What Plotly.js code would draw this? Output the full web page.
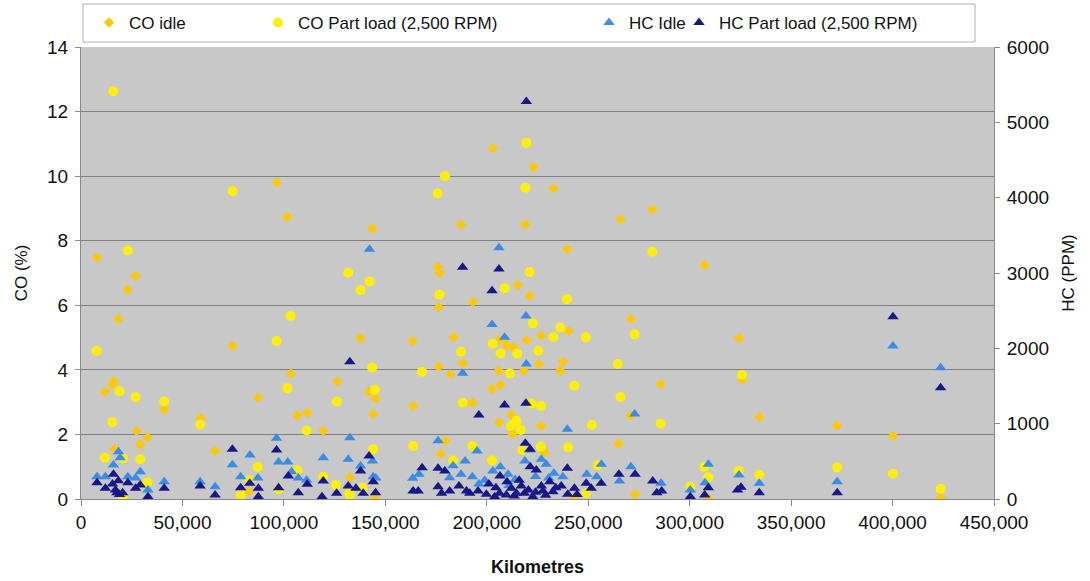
<!DOCTYPE html>
<html>
<head>
<meta charset="utf-8">
<script src="https://cdn.plot.ly/plotly-3.0.1.min.js"></script>
<style>
  html, body { margin: 0; padding: 0; background: #ffffff; }
  #chart { width: 1090px; height: 581px; }
</style>
</head>
<body>
<div id="chart"></div>
<script>
// ---- Data ----
const seriesNames = ["CO idle", "CO Part load (2,500 RPM)", "HC Idle", "HC Part load (2,500 RPM)"];

const coIdleKm = [7900, 11800, 15600, 16200, 16500, 18500, 20700, 23100, 26900, 27400, 29200, 32800, 41000, 59000, 66100, 74800, 83000, 87200, 96400, 101700, 103500, 106600, 111500, 119400, 126300, 132500, 137800, 142000, 143500, 144000, 145200, 144800, 163400, 163700, 175800, 176300, 176300, 176800, 177300, 179600, 182100, 183700, 187300, 188300, 192900, 193200, 202600, 203000, 206000, 206000, 206400, 206800, 209600, 212200, 212600, 212900, 215300, 218300, 219000, 219600, 221200, 223100, 225700, 226700, 226900, 228500, 232900, 236200, 237500, 239700, 240300, 243200, 264900, 266000, 270800, 271000, 273100, 281600, 285700, 307400, 309200, 324300, 326000, 334300, 372700, 400200, 423700];
const coIdleVal = [7.48, 3.32, 3.55, 3.65, 1.55, 5.58, 0.02, 6.48, 6.91, 2.11, 1.69, 1.91, 2.77, 2.50, 1.49, 4.75, 0.23, 3.14, 9.80, 8.74, 3.88, 2.59, 2.67, 2.11, 3.64, 0.67, 4.98, 3.32, 8.38, 2.63, 3.11, 0.02, 4.89, 2.88, 7.19, 5.94, 4.10, 7.00, 1.40, 1.80, 3.86, 5.01, 8.50, 4.20, 2.98, 6.10, 3.41, 10.86, 3.97, 2.37, 4.95, 3.54, 4.77, 2.61, 2.01, 4.70, 6.63, 3.97, 8.51, 4.92, 6.30, 10.28, 4.18, 5.06, 2.27, 1.45, 9.62, 3.97, 4.25, 7.74, 5.20, 0.05, 1.71, 8.66, 2.58, 5.57, 0.15, 8.97, 3.56, 7.25, 0.02, 4.98, 3.69, 2.54, 2.28, 1.95, 0.04];

const coPartKm = [7700, 11800, 15400, 15900, 19000, 20700, 20700, 23100, 26900, 29200, 32800, 41000, 58700, 74800, 78700, 83000, 87100, 96400, 97400, 101700, 103300, 106600, 111200, 119400, 125600, 126100, 131700, 132200, 132500, 137800, 138800, 142200, 143500, 144000, 144800, 163700, 168100, 175800, 176700, 179400, 183400, 187300, 188100, 192900, 202600, 202900, 206800, 208800, 211400, 211900, 214600, 215000, 216700, 217500, 219000, 219500, 221100, 222100, 222700, 225400, 226700, 226700, 232800, 236200, 239500, 240100, 243200, 248800, 249000, 251800, 254700, 264600, 265900, 272900, 281600, 285700, 300300, 307200, 309200, 324100, 325800, 334300, 372700, 400200, 423700];
const coPartVal = [4.59, 1.28, 2.38, 12.63, 3.34, 1.26, 0.02, 7.70, 3.15, 1.23, 0.51, 3.02, 2.31, 9.53, 0.12, 0.59, 0.99, 4.89, 0.30, 3.43, 5.67, 0.89, 2.12, 0.69, 0.43, 3.02, 7.01, 0.18, 0.12, 6.47, 0.35, 6.74, 4.07, 1.54, 3.38, 1.64, 3.94, 9.46, 6.33, 10.00, 1.19, 4.56, 2.98, 1.64, 1.19, 4.81, 4.51, 6.53, 3.89, 2.27, 2.42, 4.50, 2.14, 1.52, 9.64, 11.03, 7.03, 2.96, 5.44, 4.59, 2.88, 1.62, 5.02, 5.31, 6.19, 1.60, 3.51, 5.01, 0.18, 2.29, 1.05, 4.18, 3.16, 5.10, 7.66, 2.34, 0.38, 1.00, 0.67, 0.87, 3.84, 0.75, 0.98, 0.78, 0.32];

const hcIdleKm = [7900, 12000, 16000, 18500, 19300, 23100, 26900, 29200, 33000, 41000, 58700, 66100, 74600, 78700, 83300, 87200, 96400, 97400, 101900, 103800, 107100, 111200, 119400, 131700, 132500, 137800, 142200, 143700, 144000, 145300, 163500, 166600, 176000, 181700, 183400, 187300, 188100, 189300, 192900, 195200, 196100, 199000, 202600, 203000, 206000, 206700, 208800, 210500, 211000, 214000, 218800, 219300, 219500, 221100, 224000, 226900, 229300, 230500, 233100, 237500, 239700, 249300, 254200, 256500, 265400, 271000, 272900, 285900, 300300, 307600, 309200, 324300, 334300, 372700, 400200, 423700];
const hcIdleVal = [296, 296, 451, 628, 548, 296, 279, 362, 119, 230, 230, 163, 455, 296, 584, 279, 805, 491, 491, 362, 279, 252, 548, 527, 814, 438, 3314, 504, 296, 279, 275, 327, 774, 283, 442, 327, 1668, 504, 296, 637, 199, 250, 2318, 372, 3335, 429, 2146, 330, 180, 260, 504, 2428, 1791, 650, 300, 527, 460, 280, 341, 296, 925, 327, 296, 460, 239, 429, 1128, 208, 119, 217, 460, 318, 208, 230, 2030, 1743];

const hcPartKm = [7900, 12000, 15500, 16000, 17000, 17700, 18400, 19000, 20500, 23100, 26900, 29200, 33000, 41000, 58700, 66100, 74600, 78700, 83200, 87400, 87400, 96400, 97400, 102200, 107100, 111500, 118800, 119400, 126000, 131700, 132500, 135500, 137800, 139100, 142000, 144000, 145200, 163700, 166200, 168100, 176000, 176000, 177700, 179300, 181700, 186300, 188100, 190000, 191600, 195700, 196100, 199800, 201000, 202600, 203900, 204500, 206000, 206300, 206500, 208800, 209600, 210000, 212100, 213500, 214600, 216000, 217000, 218600, 219000, 219300, 219500, 220500, 221400, 221400, 222700, 224000, 224400, 226900, 227700, 229000, 231000, 232600, 234000, 236700, 239700, 239900, 243200, 244500, 249000, 251500, 256400, 265100, 273100, 281800, 283800, 286200, 300300, 307400, 309200, 323600, 325300, 334300, 372700, 400200, 423700];
const hcPartVal = [217, 142, 200, 327, 120, 84, 243, 60, 84, 217, 142, 186, 31, 142, 173, 53, 659, 150, 208, 142, 31, 650, 150, 305, 84, 195, 31, 239, 76, 173, 1822, 142, 372, 76, 571, 230, 84, 106, 106, 415, 407, 163, 76, 372, 106, 173, 3075, 106, 76, 106, 1115, 62, 200, 2764, 31, 150, 3052, 76, 305, 1247, 53, 230, 142, 40, 76, 250, 173, 76, 739, 1270, 5277, 120, 659, 429, 31, 90, 385, 173, 106, 50, 230, 97, 150, 173, 407, 62, 142, 60, 208, 142, 208, 327, 327, 239, 84, 106, 31, 53, 150, 119, 155, 84, 84, 2419, 1477];

const xTickVals = [0, 50000, 100000, 150000, 200000, 250000, 300000, 350000, 400000, 450000];
const coTickVals = [0, 2, 4, 6, 8, 10, 12, 14];
const hcTickVals = [0, 1000, 2000, 3000, 4000, 5000, 6000];

// ---- Styling ----
const FONT = "'Liberation Sans', Arial, Helvetica, sans-serif";
const W = 1090, H = 581;
const L = 81, R = 994, T = 47, B = 499;
const pw = R - L, ph = B - T;
const px = v => (v - L) / pw;          // page pixel x -> paper x
const py = v => (B - v) / ph;          // page pixel y -> paper y
const cx = v => v / W;                 // page pixel x -> container x
const cy = v => 1 - v / H;             // page pixel y -> container y

const traces = [
  { x: coIdleKm, y: coIdleVal, name: seriesNames[0], type: 'scatter', mode: 'markers', yaxis: 'y', legend: 'legend',
    marker: { symbol: 'diamond', size: 8, color: '#FFC800', line: { width: 0 } } },
  { x: coPartKm, y: coPartVal, name: seriesNames[1], type: 'scatter', mode: 'markers', yaxis: 'y', legend: 'legend2',
    marker: { symbol: 'circle', size: 10, color: '#FFF000', line: { width: 0 } } },
  { x: hcIdleKm, y: hcIdleVal, name: seriesNames[2], type: 'scatter', mode: 'markers', yaxis: 'y2', legend: 'legend3',
    marker: { symbol: 'triangle-up', size: 10, color: '#3A8CE6', line: { width: 0 } } },
  { x: hcPartKm, y: hcPartVal, name: seriesNames[3], type: 'scatter', mode: 'markers', yaxis: 'y2', legend: 'legend4',
    marker: { symbol: 'triangle-up', size: 10, color: '#17178C', line: { width: 0 } } }
];

const legendBase = {
  orientation: 'h', xref: 'container', yref: 'container',
  xanchor: 'left', yanchor: 'middle', y: cy(23),
  bgcolor: 'rgba(0,0,0,0)', borderwidth: 0,
  font: { family: FONT, size: 17, color: '#111' },
  itemsizing: 'trace', itemclick: false, itemdoubleclick: false
};

const layout = {
  width: W, height: H,
  margin: { l: L, r: W - R, t: T, b: H - B, pad: 0, autoexpand: false },
  paper_bgcolor: '#ffffff',
  plot_bgcolor: '#C8C8C8',
  font: { family: FONT, size: 19, color: '#111' },
  showlegend: true,
  legend:  Object.assign({}, legendBase, { x: cx(89) }),
  legend2: Object.assign({}, legendBase, { x: cx(258) }),
  legend3: Object.assign({}, legendBase, { x: cx(589) }),
  legend4: Object.assign({}, legendBase, { x: cx(679) }),
  xaxis: {
    range: [0, 450000], tickvals: xTickVals, tickformat: ',d',
    showgrid: false, zeroline: false,
    showline: true, linecolor: '#8a8a8a', linewidth: 1,
    ticks: 'outside', ticklen: 6, tickcolor: '#8a8a8a',
    tickfont: { family: FONT, size: 19, color: '#111' },
    title: { text: '<b>Kilometres</b>', font: { family: FONT, size: 18, color: '#111' }, standoff: 28 },
    automargin: false, fixedrange: true
  },
  yaxis: {
    range: [0, 14], tickvals: coTickVals,
    showgrid: true, gridcolor: '#7f7f7f', gridwidth: 1,
    zeroline: false, showline: true, linecolor: '#8a8a8a', linewidth: 1,
    ticks: 'outside', ticklen: 5, tickcolor: '#8a8a8a', ticklabelstandoff: 3,
    tickfont: { family: FONT, size: 19, color: '#111' },
    title: { text: 'CO (%)', font: { family: FONT, size: 17, color: '#111' }, standoff: 15 },
    automargin: false, fixedrange: true
  },
  yaxis2: {
    range: [0, 6000], tickvals: hcTickVals, overlaying: 'y', side: 'right',
    showgrid: false, zeroline: false,
    showline: true, linecolor: '#8a8a8a', linewidth: 1,
    ticks: 'outside', ticklen: 5, tickcolor: '#8a8a8a', ticklabelstandoff: 3,
    tickfont: { family: FONT, size: 19, color: '#111' },
    title: { text: 'HC (PPM)', font: { family: FONT, size: 17, color: '#111' }, standoff: 14 },
    automargin: false, fixedrange: true
  },
  shapes: [
    { type: 'rect', xref: 'paper', yref: 'paper', x0: px(83), x1: px(975), y0: py(42), y1: py(4),
      fillcolor: '#ffffff', line: { color: '#b0b0b0', width: 1 }, layer: 'above' }
  ]
};

Plotly.newPlot('chart', traces, layout, { staticPlot: true, displayModeBar: false });
</script>
</body>
</html>
